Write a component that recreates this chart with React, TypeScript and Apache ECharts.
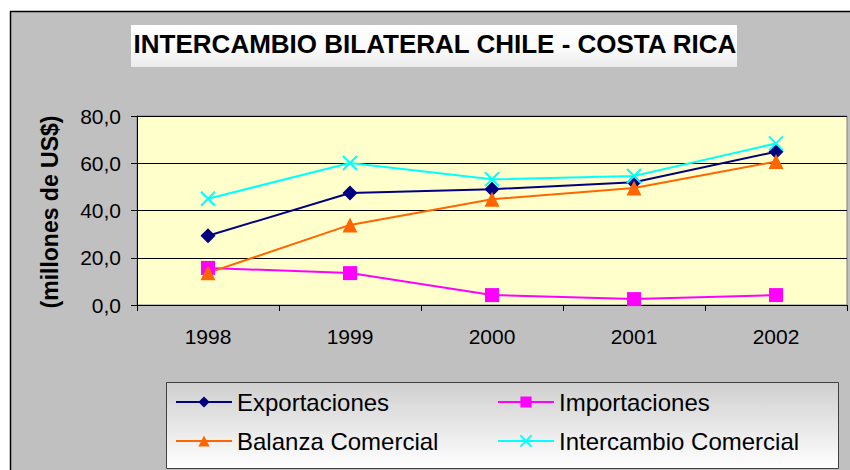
import React, { useEffect, useRef } from "react";
import * as echarts from "echarts";

const years = ["1998", "1999", "2000", "2001", "2002"];
const exportaciones = [29.3, 47.4, 49.0, 52.0, 64.9];
const importaciones = [15.7, 13.5, 4.2, 2.5, 4.2];
const balanza = [13.6, 33.9, 44.8, 49.5, 60.7];
const intercambio = [45.0, 60.1, 53.2, 54.6, 68.4];
const yTicks = [0, 20, 40, 60, 80];

const FONT = "'Liberation Sans', Arial, sans-serif";

export default function App() {
  const ref = useRef<HTMLDivElement>(null);
  useEffect(() => {
    if (!ref.current) return;
    const chart = echarts.init(ref.current, undefined, { renderer: "svg" });
    const mk = (name: string, data: number[], color: string, symbol: string, size: number, extra: any = {}) => ({
      name,
      type: "line",
      data,
      symbol,
      symbolSize: size,
      lineStyle: { color, width: 2 },
      itemStyle: { color, ...extra },
      emphasis: { disabled: true },
    });
    const legendBase = {
      orient: "vertical",
      top: 390,
      padding: 0,
      itemWidth: 56,
      itemHeight: 14,
      itemGap: 15,
      selectedMode: false,
      textStyle: { fontFamily: FONT, fontSize: 24, color: "#000" },
    };
    chart.setOption({
      animation: false,
      backgroundColor: "#ffffff",
      graphic: [
        {
          type: "rect",
          z: -10,
          shape: { x: 10.5, y: 11.5, width: 860, height: 480 },
          style: { fill: "#C0C0C0", stroke: "#000000", lineWidth: 1.5 },
        },
        {
          type: "rect",
          z: -5,
          shape: { x: 131, y: 25, width: 606, height: 42 },
          style: {
            fill: new echarts.graphic.LinearGradient(0, 0, 0, 1, [
              { offset: 0, color: "#ffffff" },
              { offset: 0.6, color: "#fafafa" },
              { offset: 1, color: "#ebebeb" },
            ]),
          },
        },
        {
          type: "text",
          x: 435,
          y: 44,
          style: {
            text: "INTERCAMBIO BILATERAL CHILE - COSTA RICA",
            font: `bold 26px ${FONT}`,
            fill: "#000",
            align: "center",
            verticalAlign: "middle",
          },
        },
        {
          type: "text",
          x: 50,
          y: 212,
          rotation: Math.PI / 2,
          style: {
            text: "(millones de US$)",
            font: `bold 23px ${FONT}`,
            fill: "#000",
            align: "center",
            verticalAlign: "middle",
          },
        },
        {
          type: "rect",
          z: -5,
          shape: { x: 166.5, y: 382.5, width: 672, height: 86 },
          style: {
            fill: new echarts.graphic.LinearGradient(0, 0, 0, 1, [
              { offset: 0, color: "#cfcfcf" },
              { offset: 1, color: "#ffffff" },
            ]),
            stroke: "#404040",
            lineWidth: 1,
          },
        },
      ],
      grid: {
        left: 137,
        right: 3,
        top: 116,
        bottom: 165,
        show: true,
        backgroundColor: "#FFFFCC",
        borderColor: "#808080",
        borderWidth: 1,
      },
      legend: [
        { ...legendBase, left: 175, data: ["Exportaciones", "Balanza Comercial"] },
        { ...legendBase, left: 497, data: ["Importaciones", "Intercambio Comercial"] },
      ],
      xAxis: {
        type: "category",
        data: years,
        boundaryGap: true,
        axisLine: { lineStyle: { color: "#000", width: 1 } },
        axisTick: { show: true, length: 6, inside: false, lineStyle: { color: "#000" } },
        axisLabel: { fontFamily: FONT, fontSize: 21, color: "#000", margin: 21 },
        splitLine: { show: false },
      },
      yAxis: {
        type: "value",
        min: 0,
        max: 80,
        interval: 20,
        axisLine: { show: true, lineStyle: { color: "#000", width: 1 } },
        axisTick: { show: true, length: 6, lineStyle: { color: "#000" } },
        axisLabel: {
          fontFamily: FONT,
          fontSize: 21,
          color: "#000",
          margin: 16,
          formatter: (v: number) => (yTicks.includes(v) ? v.toFixed(1).replace(".", ",") : ""),
        },
        splitLine: { show: true, lineStyle: { color: "#000", width: 1 } },
      },
      series: [
        mk("Exportaciones", exportaciones, "#000080", "diamond", 15),
        mk("Importaciones", importaciones, "#FF00FF", "rect", 14),
        mk("Balanza Comercial", balanza, "#FF6600", "triangle", 15),
        mk("Intercambio Comercial", intercambio, "#00FFFF", "path://M0,0L10,10M10,0L0,10", 14, {
          borderColor: "#00FFFF",
          borderWidth: 2,
        }),
      ],
    });
    return () => chart.dispose();
  }, []);
  return (
    <div
      ref={ref}
      style={{ position: "absolute", left: 0, top: 0, width: 850, height: 470 }}
    />
  );
}
